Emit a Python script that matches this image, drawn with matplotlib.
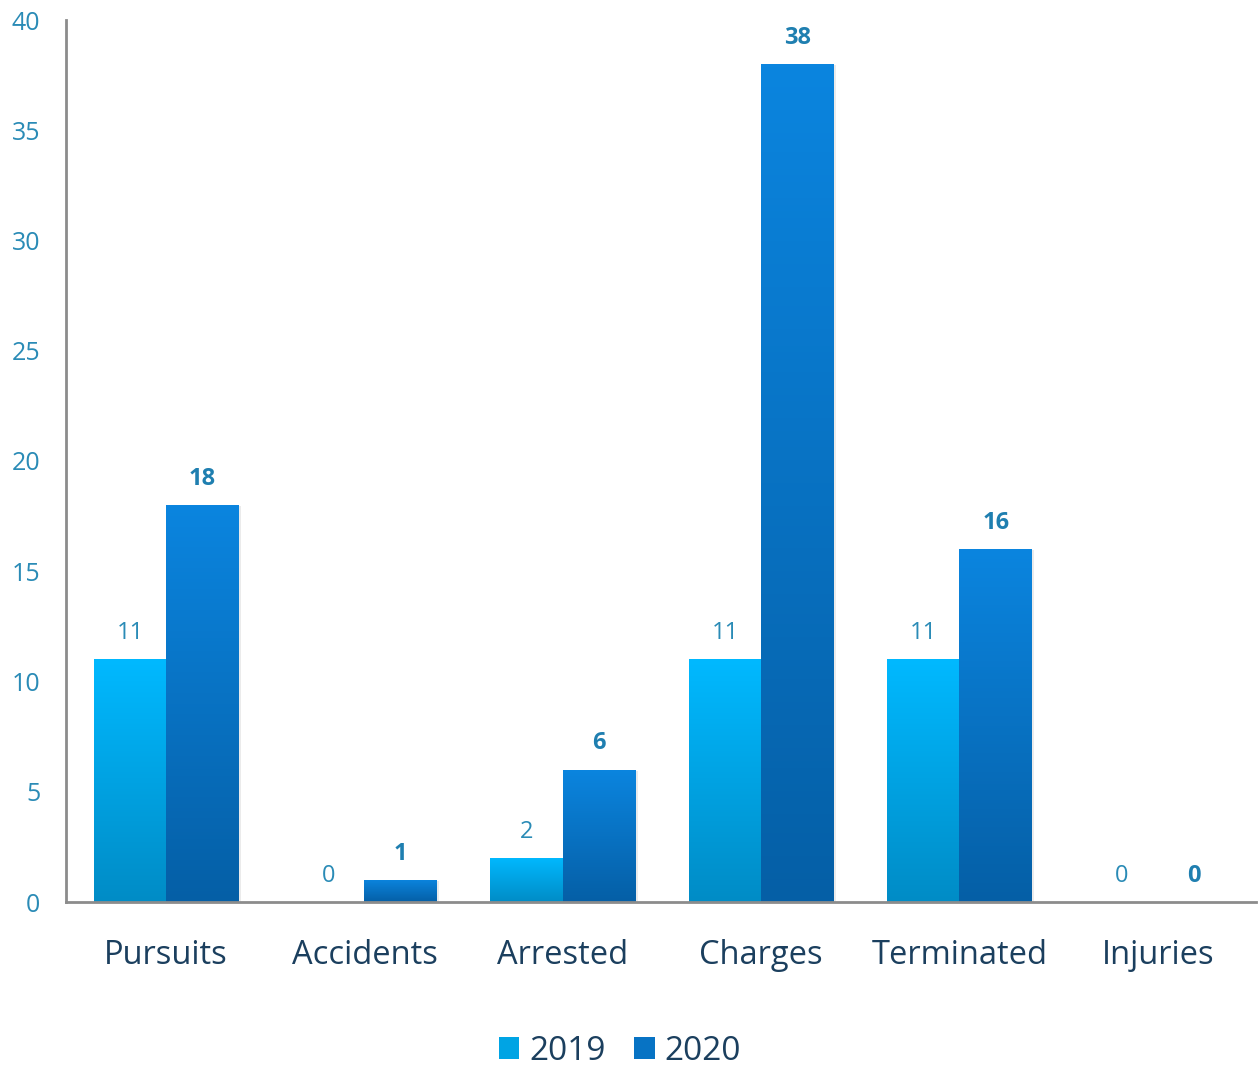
import matplotlib.pyplot as plt
import numpy as np
from matplotlib.colors import LinearSegmentedColormap
from matplotlib.patches import Patch

categories = ['Pursuits', 'Accidents', 'Arrested', 'Charges', 'Terminated', 'Injuries']
years = ['2019', '2020']
values_2019 = [11, 0, 2, 11, 11, 0]
values_2020 = [18, 1, 6, 38, 16, 0]

# top / bottom colours of the bar gradients
grad_2019 = ('#00B9FF', '#008CC6')
grad_2020 = ('#0B85DF', '#055FA6')

plt.rcParams['font.family'] = ['Open Sans', 'DejaVu Sans']

fig = plt.figure(figsize=(12.59, 10.67), dpi=100)
ax = fig.add_axes([66 / 1259, 1 - 902 / 1067, 1190 / 1259, 882 / 1067])

x = np.arange(len(categories))
width = 0.365


def gradient_bars(xpos, heights, colors):
    cmap = LinearSegmentedColormap.from_list('g', [colors[1], colors[0]])
    grad = np.linspace(0, 1, 256).reshape(-1, 1)
    bars = ax.bar(xpos, heights, width, color='none', edgecolor='none')
    for b, h in zip(bars, heights):
        if h == 0:
            continue
        x0 = b.get_x()
        # soft shadow on the right side
        ax.bar(x0 + width / 2 + 0.012, h, width, bottom=-0.05,
               color='#000000', alpha=0.08, zorder=1)
        im = ax.imshow(grad, extent=[x0, x0 + width, 0, h], origin='lower',
                       aspect='auto', cmap=cmap, zorder=2)
        im.set_clip_path(b)
    return bars


gradient_bars(x - width / 2, values_2019, grad_2019)
gradient_bars(x + width / 2, values_2020, grad_2020)

for xi, v in zip(x, values_2019):
    ax.text(xi - width / 2, v + 0.65, str(v), ha='center', va='bottom',
            fontsize=17, color='#2A8BB6')
for xi, v in zip(x, values_2020):
    ax.text(xi + width / 2, v + 0.65, str(v), ha='center', va='bottom',
            fontsize=17, color='#1F7FB0', fontweight='bold')

ax.set_xlim(-0.505, 5.495)
ax.set_ylim(0, 40)
ax.set_yticks(range(0, 41, 5))
ax.tick_params(axis='y', length=0, pad=18.5, labelsize=18, labelcolor='#2A8BB6')
ax.set_xticks(x)
ax.set_xticklabels(categories)
ax.tick_params(axis='x', length=0, pad=27, labelsize=23.5, labelcolor='#1B3F5E')

for s in ['top', 'right']:
    ax.spines[s].set_visible(False)
for s in ['left', 'bottom']:
    ax.spines[s].set_color('#8C8C8C')
    ax.spines[s].set_linewidth(2)
    ax.spines[s].set_zorder(5)

handles = [Patch(facecolor='#00A4E4', label=years[0]),
           Patch(facecolor='#0773C4', label=years[1])]
fig.legend(handles=handles, loc='center', bbox_to_anchor=(0.4925, 1 - 1051 / 1067),
           ncol=2, frameon=False, fontsize=24, handlelength=0.62, handleheight=0.62,
           handletextpad=0.3, columnspacing=0.85, labelcolor='#1B3F5E')

fig.savefig('out.png', dpi=100)
